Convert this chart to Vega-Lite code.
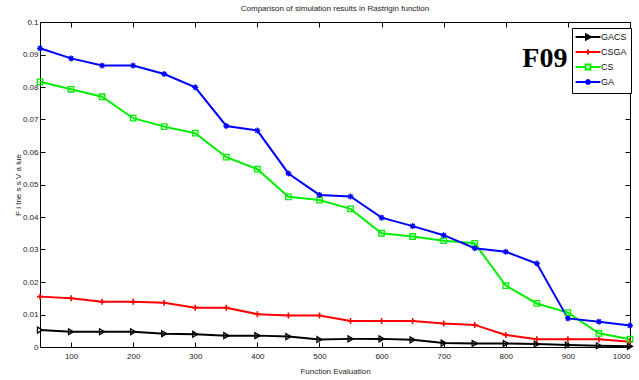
{
  "$schema": "https://vega.github.io/schema/vega-lite/v6.json",
  "width": 590,
  "height": 325,
  "autosize": "none",
  "padding": {"left": 40, "top": 22, "right": 9, "bottom": 33},
  "background": "white",
  "title": {"text": "Comparison of simulation results in Rastrigin function", "font": "Liberation Sans", "fontSize": 8, "fontWeight": "normal", "color": "#222", "anchor": "middle", "offset": 5},
  "config": {
    "view": {"stroke": "#000", "strokeWidth": 1},
    "axis": {"grid": false, "domain": false, "tickColor": "#000", "tickSize": -5, "labelFont": "Liberation Sans", "labelFontSize": 8, "labelColor": "#222", "titleFont": "Liberation Sans", "titleFontSize": 8, "titleFontWeight": "normal", "titleColor": "#222"}
  },
  "data": {"values": [
    {"x":50,"y":0.0052,"algo":"GACS"},{"x":100,"y":0.0047,"algo":"GACS"},{"x":150,"y":0.0047,"algo":"GACS"},{"x":200,"y":0.0047,"algo":"GACS"},{"x":250,"y":0.0041,"algo":"GACS"},{"x":300,"y":0.0039,"algo":"GACS"},{"x":350,"y":0.0035,"algo":"GACS"},{"x":400,"y":0.0035,"algo":"GACS"},{"x":450,"y":0.0032,"algo":"GACS"},{"x":500,"y":0.0023,"algo":"GACS"},{"x":550,"y":0.0025,"algo":"GACS"},{"x":600,"y":0.0025,"algo":"GACS"},{"x":650,"y":0.0022,"algo":"GACS"},{"x":700,"y":0.0012,"algo":"GACS"},{"x":750,"y":0.0011,"algo":"GACS"},{"x":800,"y":0.0011,"algo":"GACS"},{"x":850,"y":0.0009,"algo":"GACS"},{"x":900,"y":0.0006,"algo":"GACS"},{"x":950,"y":0.0004,"algo":"GACS"},{"x":1000,"y":0.0002,"algo":"GACS"},
    {"x":50,"y":0.0155,"algo":"CSGA"},{"x":100,"y":0.015,"algo":"CSGA"},{"x":150,"y":0.0139,"algo":"CSGA"},{"x":200,"y":0.0139,"algo":"CSGA"},{"x":250,"y":0.0136,"algo":"CSGA"},{"x":300,"y":0.0121,"algo":"CSGA"},{"x":350,"y":0.0121,"algo":"CSGA"},{"x":400,"y":0.0101,"algo":"CSGA"},{"x":450,"y":0.0097,"algo":"CSGA"},{"x":500,"y":0.0097,"algo":"CSGA"},{"x":550,"y":0.008,"algo":"CSGA"},{"x":600,"y":0.008,"algo":"CSGA"},{"x":650,"y":0.008,"algo":"CSGA"},{"x":700,"y":0.0072,"algo":"CSGA"},{"x":750,"y":0.0068,"algo":"CSGA"},{"x":800,"y":0.0037,"algo":"CSGA"},{"x":850,"y":0.0024,"algo":"CSGA"},{"x":900,"y":0.0024,"algo":"CSGA"},{"x":950,"y":0.0024,"algo":"CSGA"},{"x":1000,"y":0.0016,"algo":"CSGA"},
    {"x":50,"y":0.0816,"algo":"CS"},{"x":100,"y":0.0793,"algo":"CS"},{"x":150,"y":0.077,"algo":"CS"},{"x":200,"y":0.0704,"algo":"CS"},{"x":250,"y":0.0678,"algo":"CS"},{"x":300,"y":0.0658,"algo":"CS"},{"x":350,"y":0.0584,"algo":"CS"},{"x":400,"y":0.0547,"algo":"CS"},{"x":450,"y":0.0462,"algo":"CS"},{"x":500,"y":0.0452,"algo":"CS"},{"x":550,"y":0.0425,"algo":"CS"},{"x":600,"y":0.035,"algo":"CS"},{"x":650,"y":0.034,"algo":"CS"},{"x":700,"y":0.0327,"algo":"CS"},{"x":750,"y":0.0319,"algo":"CS"},{"x":800,"y":0.0189,"algo":"CS"},{"x":850,"y":0.0134,"algo":"CS"},{"x":900,"y":0.0106,"algo":"CS"},{"x":950,"y":0.0042,"algo":"CS"},{"x":1000,"y":0.0024,"algo":"CS"},
    {"x":50,"y":0.0919,"algo":"GA"},{"x":100,"y":0.0888,"algo":"GA"},{"x":150,"y":0.0866,"algo":"GA"},{"x":200,"y":0.0866,"algo":"GA"},{"x":250,"y":0.084,"algo":"GA"},{"x":300,"y":0.0799,"algo":"GA"},{"x":350,"y":0.068,"algo":"GA"},{"x":400,"y":0.0666,"algo":"GA"},{"x":450,"y":0.0534,"algo":"GA"},{"x":500,"y":0.0468,"algo":"GA"},{"x":550,"y":0.0463,"algo":"GA"},{"x":600,"y":0.0398,"algo":"GA"},{"x":650,"y":0.0372,"algo":"GA"},{"x":700,"y":0.0344,"algo":"GA"},{"x":750,"y":0.0304,"algo":"GA"},{"x":800,"y":0.0293,"algo":"GA"},{"x":850,"y":0.0257,"algo":"GA"},{"x":900,"y":0.0088,"algo":"GA"},{"x":950,"y":0.0078,"algo":"GA"},{"x":1000,"y":0.0066,"algo":"GA"}
  ]},
  "resolve": {"axis": {"x": "independent", "y": "independent"}},
  "layer": [
    {
      "mark": {"type": "line"},
      "encoding": {
        "x": {"field": "x", "type": "quantitative", "scale": {"domain": [50, 1000], "nice": false, "zero": false}, "axis": {"orient": "bottom", "values": [100,200,300,400,500,600,700,800,900,1000], "format": "d", "title": "Function Evaluation", "labelPadding": 10, "titlePadding": 7}},
        "y": {"field": "y", "type": "quantitative", "scale": {"domain": [0, 0.1], "nice": false}, "axis": {"orient": "left", "values": [0,0.01,0.02,0.03,0.04,0.05,0.06,0.07,0.08,0.09,0.1], "format": ".2~f", "title": "F i tne s s   V a lue", "labelPadding": 7, "titlePadding": 0}},
        "color": {"field": "algo", "type": "nominal", "scale": {"domain": ["GACS", "CSGA", "CS", "GA"], "range": ["#000000", "#ff0000", "#00ee00", "#0000ff"]},
          "legend": {"orient": "none", "legendX": 532, "legendY": 6, "title": null, "strokeColor": "#000", "fillColor": "#fff", "padding": 4, "symbolSize": 64, "symbolOffset": 7, "symbolStrokeWidth": 2, "symbolOpacity": 1, "symbolFillColor": "transparent", "labelOffset": 8, "rowPadding": 1, "labelFont": "Liberation Sans", "labelFontSize": 9, "labelColor": "#111"}},
        "strokeWidth": {"field": "algo", "type": "nominal", "scale": {"domain": ["GACS", "CSGA", "CS", "GA"], "range": [2, 2, 1.1, 1.7]}, "legend": null}
      }
    },
    {
      "mark": {"type": "point", "filled": false, "size": 34, "strokeWidth": 1.3, "opacity": 0},
      "encoding": {
        "x": {"field": "x", "type": "quantitative", "axis": {"orient": "top", "values": [100,200,300,400,500,600,700,800,900,1000], "labels": false, "title": null}},
        "y": {"field": "y", "type": "quantitative", "axis": {"orient": "right", "values": [0,0.01,0.02,0.03,0.04,0.05,0.06,0.07,0.08,0.09,0.1], "labels": false, "title": null}},
        "color": {"field": "algo", "type": "nominal", "scale": {"domain": ["GACS", "CSGA", "CS", "GA"]},
          "legend": {"orient": "none", "legendX": 532, "legendY": 6, "title": null, "strokeColor": "#000", "fillColor": "#fff", "padding": 4, "symbolSize": 64, "symbolOffset": 7, "symbolStrokeWidth": 2, "symbolOpacity": 1, "symbolFillColor": "transparent", "labelOffset": 8, "rowPadding": 1, "labelFont": "Liberation Sans", "labelFontSize": 9, "labelColor": "#111"}},
        "shape": {"field": "algo", "type": "nominal", "scale": {"domain": ["GACS", "CSGA", "CS", "GA"], "range": ["M-3.1,0H3.1M-0.5,-0.65L0.7,0L-0.5,0.65Z", "M-3.1,0H3.1M0,-0.6V0.6", "M-3.1,0H-0.6M0.6,0H3.1M-0.6,-0.6H0.6V0.6H-0.6Z", "M-3.1,0H3.1M0,-0.7V0.7M-0.5,-0.5L0.5,0.5M-0.5,0.5L0.5,-0.5"]}}
      }
    },
    {
      "transform": [{"filter": "datum.algo == 'GACS'"}],
      "mark": {"type": "point", "filled": false, "shape": "triangle-right", "size": 34, "strokeWidth": 1.3, "color": "#000000", "opacity": 1},
      "encoding": {"x": {"field": "x", "type": "quantitative", "axis": null}, "y": {"field": "y", "type": "quantitative", "axis": null}}
    },
    {
      "transform": [{"filter": "datum.algo == 'CSGA'"}],
      "mark": {"type": "point", "filled": false, "shape": "M-1,0H1M0,-1V1", "size": 36, "strokeWidth": 1.6, "color": "#ff0000", "opacity": 1},
      "encoding": {"x": {"field": "x", "type": "quantitative", "axis": null}, "y": {"field": "y", "type": "quantitative", "axis": null}}
    },
    {
      "transform": [{"filter": "datum.algo == 'CS'"}],
      "mark": {"type": "point", "filled": false, "shape": "square", "size": 30, "strokeWidth": 1.3, "color": "#00ee00", "opacity": 1},
      "encoding": {"x": {"field": "x", "type": "quantitative", "axis": null}, "y": {"field": "y", "type": "quantitative", "axis": null}}
    },
    {
      "transform": [{"filter": "datum.algo == 'GA'"}],
      "mark": {"type": "point", "filled": false, "shape": "M-1,0H1M0,-1V1M-0.7,-0.7L0.7,0.7M-0.7,0.7L0.7,-0.7", "size": 36, "strokeWidth": 1.3, "color": "#0000ff", "opacity": 1},
      "encoding": {"x": {"field": "x", "type": "quantitative", "axis": null}, "y": {"field": "y", "type": "quantitative", "axis": null}}
    },
    {
      "transform": [{"filter": "datum.x == 50 && datum.algo == 'GA'"}],
      "mark": {"type": "text", "text": "F09", "font": "Liberation Serif", "fontSize": 28, "fontWeight": "bold", "color": "#000", "align": "center", "baseline": "middle"},
      "encoding": {"x": {"datum": 863, "axis": null}, "y": {"datum": 0.0886, "axis": null}}
    }
  ]
}
